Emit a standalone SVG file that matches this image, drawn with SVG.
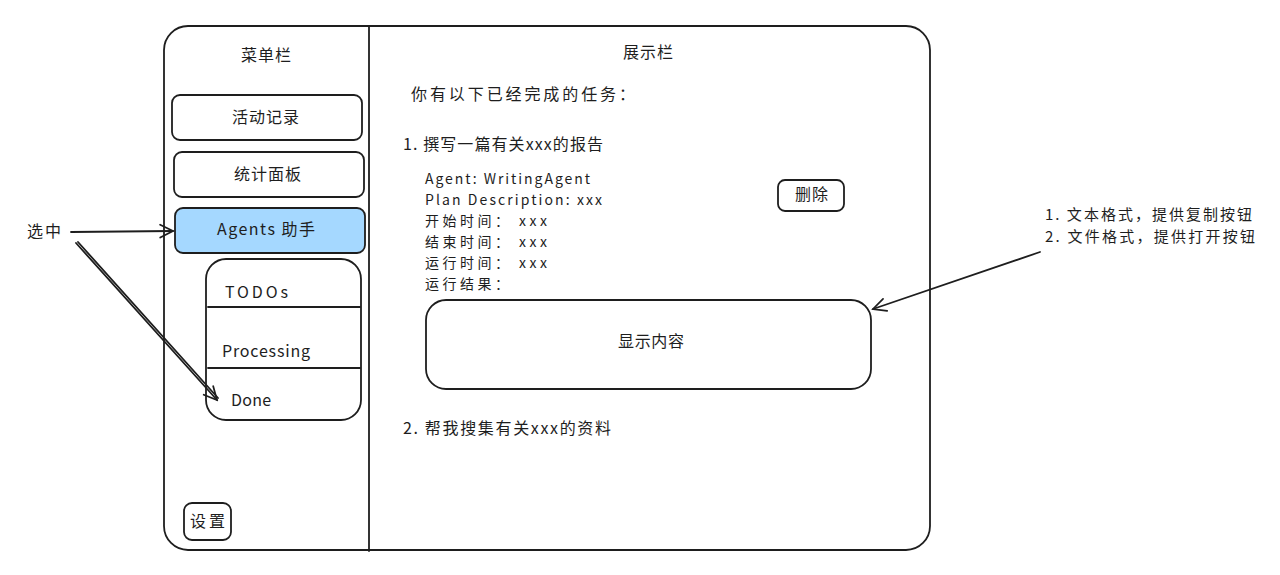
<svg xmlns="http://www.w3.org/2000/svg" width="1280" height="575" viewBox="0 0 1280 575">
<defs>
<style>
.box{fill:#fff;stroke:#1e1e1e;stroke-width:1.8}
.ln{fill:none;stroke:#1e1e1e;stroke-width:1.8;stroke-linecap:round}
.t{font-family:"Noto Sans CJK SC","Liberation Sans",sans-serif;font-size:16px;fill:#1e1e1e}
.s{font-size:14px}
.n{font-size:15px}
.m{text-anchor:middle}
</style>
<marker id="ah" viewBox="0 0 20 20" refX="18" refY="10" markerWidth="16" markerHeight="16" markerUnits="userSpaceOnUse" orient="auto">
<path d="M2 2 L18 10 L2 18" fill="none" stroke="#1e1e1e" stroke-width="2.2" stroke-linecap="round"/>
</marker>
</defs>
<rect width="1280" height="575" fill="#fff"/>
<g id="frame">
<rect class="box" x="164" y="26" width="766" height="524" rx="24"/>
<line class="ln" x1="369" y1="27" x2="369" y2="551"/>
<text class="t" x="241" y="61" textLength="50" lengthAdjust="spacing">菜单栏</text>
<text class="t" x="623" y="58" textLength="50" lengthAdjust="spacing">展示栏</text>
</g>
<g id="btn-activity">
<rect class="box" x="172" y="95" width="190" height="45" rx="8"/>
<text class="t" x="232" y="123" textLength="67" lengthAdjust="spacing">活动记录</text>
</g>
<g id="btn-stats">
<rect class="box" x="174" y="152" width="190" height="45" rx="8"/>
<text class="t" x="234" y="180" textLength="67" lengthAdjust="spacing">统计面板</text>
</g>
<g id="btn-agents">
<rect class="box" x="175" y="208" width="190" height="45" rx="8" style="fill:#a5d8ff"/>
<text class="t" x="217" y="235" textLength="98" lengthAdjust="spacing">Agents 助手</text>
</g>
<g id="submenu">
<rect class="box" x="206" y="259" width="155" height="161" rx="20"/>
<line class="ln" x1="208" y1="307" x2="360" y2="307"/>
<line class="ln" x1="208" y1="368" x2="360" y2="368"/>
<text class="t" x="225" y="298" textLength="63" lengthAdjust="spacing">TODOs</text>
<text class="t" x="222" y="357" textLength="88" lengthAdjust="spacing">Processing</text>
<text class="t" x="231" y="406" textLength="40" lengthAdjust="spacing">Done</text>
</g>
<g id="btn-settings">
<rect class="box" x="184" y="503" width="47" height="37" rx="8"/>
<text class="t" x="190" y="527" textLength="35" lengthAdjust="spacing">设置</text>
</g>
<g id="label-selected">
<text class="t" x="27" y="237" textLength="34" lengthAdjust="spacing">选中</text>
</g>
<g id="content">
<text class="t" x="411" y="100" textLength="224" lengthAdjust="spacing">你有以下已经完成的任务：</text>
<text class="t" x="403" y="150" textLength="200" lengthAdjust="spacing">1. 撰写一篇有关xxx的报告</text>
<text class="t s" x="425" y="184" textLength="165" lengthAdjust="spacing">Agent: WritingAgent</text>
<text class="t s" x="425" y="205" textLength="177" lengthAdjust="spacing">Plan Description: xxx</text>
<text class="t s" x="425" y="226" textLength="122" lengthAdjust="spacing">开始时间： xxx</text>
<text class="t s" x="425" y="247" textLength="122" lengthAdjust="spacing">结束时间： xxx</text>
<text class="t s" x="425" y="268" textLength="122" lengthAdjust="spacing">运行时间： xxx</text>
<text class="t s" x="425" y="289" textLength="84" lengthAdjust="spacing">运行结果：</text>
<text class="t" x="403" y="434" textLength="208" lengthAdjust="spacing">2. 帮我搜集有关xxx的资料</text>
</g>
<g id="btn-delete">
<rect class="box" x="778" y="180" width="66" height="31" rx="7"/>
<text class="t" x="795" y="200" textLength="33" lengthAdjust="spacing">删除</text>
</g>
<g id="display-box">
<rect class="box" x="426" y="300" width="445" height="89" rx="20"/>
<text class="t" x="618" y="347" textLength="66" lengthAdjust="spacing">显示内容</text>
</g>
<g id="note">
<text class="t n" x="1045" y="220" textLength="207" lengthAdjust="spacing">1. 文本格式，提供复制按钮</text>
<text class="t n" x="1045" y="242" textLength="210" lengthAdjust="spacing">2. 文件格式，提供打开按钮</text>
</g>
<g id="connectors">
<line class="ln" x1="71" y1="232" x2="173" y2="231" marker-end="url(#ah)"/>
<line class="ln" x1="76" y1="243" x2="217" y2="400" marker-end="url(#ah)"/>
<line class="ln" x1="78" y1="242" x2="218" y2="398"/>
<line class="ln" x1="1040" y1="252" x2="873" y2="309" marker-end="url(#ah)"/>
</g>
</svg>
